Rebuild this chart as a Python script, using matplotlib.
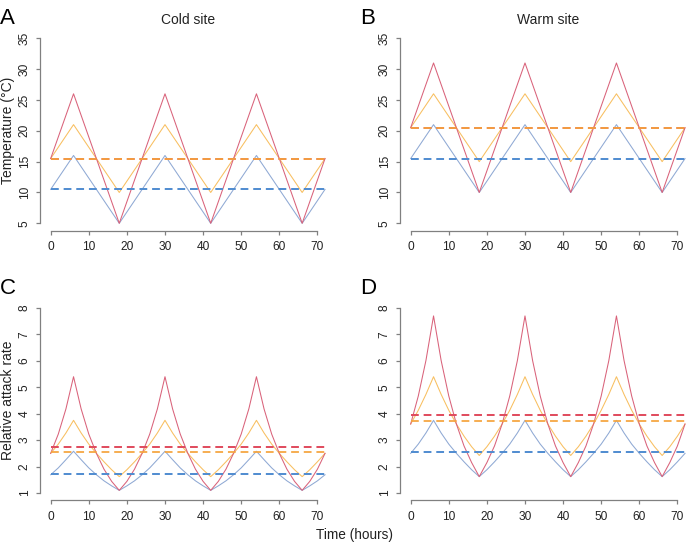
import numpy as np
from matplotlib import pyplot as plt

# begin DATA
hours_vertex = [0, 6, 18, 30, 42, 54, 66, 72]
hours = list(range(0, 73, 2))

# temperature (deg C), triangle vertices
temp_cold_blue = [10.5, 16, 5, 16, 5, 16, 5, 10.5]
temp_cold_orange = [15.5, 21, 10, 21, 10, 21, 10, 15.5]
temp_cold_red = [15.5, 26, 5, 26, 5, 26, 5, 15.5]
temp_warm_blue = [15.5, 21, 10, 21, 10, 21, 10, 15.5]
temp_warm_orange = [20.5, 26, 15, 26, 15, 26, 15, 20.5]
temp_warm_red = [20.5, 31, 10, 31, 10, 31, 10, 20.5]
temp_mean_cold = [10.5, 15.5, 15.5]
temp_mean_warm = [15.5, 20.5, 20.5]

# relative attack rate, every 2 hours
rate_cold_blue = [1.69, 1.95, 2.26, 2.58, 2.26, 1.95, 1.69, 1.46, 1.27, 1.10, 1.27, 1.46,
                  1.69, 1.95, 2.26, 2.58, 2.26, 1.95, 1.69, 1.46, 1.27, 1.10, 1.27, 1.46,
                  1.69, 1.95, 2.26, 2.58, 2.26, 1.95, 1.69, 1.46, 1.27, 1.10, 1.27, 1.46,
                  1.69]
rate_cold_orange = [2.50, 2.85, 3.27, 3.75, 3.27, 2.85, 2.50, 2.18, 1.88, 1.62, 1.88, 2.18,
                    2.50, 2.85, 3.27, 3.75, 3.27, 2.85, 2.50, 2.18, 1.88, 1.62, 1.88, 2.18,
                    2.50, 2.85, 3.27, 3.75, 3.27, 2.85, 2.50, 2.18, 1.88, 1.62, 1.88, 2.18,
                    2.50]
rate_cold_red = [2.50, 3.23, 4.18, 5.40, 4.18, 3.23, 2.50, 1.90, 1.44, 1.10, 1.44, 1.90,
                 2.50, 3.23, 4.18, 5.40, 4.18, 3.23, 2.50, 1.90, 1.44, 1.10, 1.44, 1.90,
                 2.50, 3.23, 4.18, 5.40, 4.18, 3.23, 2.50, 1.90, 1.44, 1.10, 1.44, 1.90,
                 2.50]
rate_warm_blue = [2.50, 2.85, 3.27, 3.75, 3.27, 2.85, 2.50, 2.18, 1.88, 1.62, 1.88, 2.18,
                  2.50, 2.85, 3.27, 3.75, 3.27, 2.85, 2.50, 2.18, 1.88, 1.62, 1.88, 2.18,
                  2.50, 2.85, 3.27, 3.75, 3.27, 2.85, 2.50, 2.18, 1.88, 1.62, 1.88, 2.18,
                  2.50]
rate_warm_orange = [3.61, 4.13, 4.73, 5.40, 4.73, 4.13, 3.61, 3.15, 2.75, 2.42, 2.75, 3.15,
                    3.61, 4.13, 4.73, 5.40, 4.73, 4.13, 3.61, 3.15, 2.75, 2.42, 2.75, 3.15,
                    3.61, 4.13, 4.73, 5.40, 4.73, 4.13, 3.61, 3.15, 2.75, 2.42, 2.75, 3.15,
                    3.61]
rate_warm_red = [3.61, 4.67, 6.01, 7.70, 6.01, 4.67, 3.61, 2.78, 2.15, 1.62, 2.15, 2.78,
                 3.61, 4.67, 6.01, 7.70, 6.01, 4.67, 3.61, 2.78, 2.15, 1.62, 2.15, 2.78,
                 3.61, 4.67, 6.01, 7.70, 6.01, 4.67, 3.61, 2.78, 2.15, 1.62, 2.15, 2.78,
                 3.61]
rate_mean_cold = [1.73, 2.57, 2.73]
rate_mean_warm = [2.55, 3.73, 3.97]
# end DATA

solid_cols = ['#8fa9d4', '#f8bf60', '#d9627a']
dash_cols = ['#4f8bd0', '#f5a53e', '#e04a5c']
axis_col = '#808080'
text_col = '#222222'

plt.rcParams['font.family'] = ['Liberation Sans', 'DejaVu Sans']

fig = plt.figure(figsize=(6.9, 5.48), dpi=100)
W, H = 690.0, 548.0


def make_ax(left_px, top_px, w_px, h_px):
    return fig.add_axes([left_px / W, 1 - (top_px + h_px) / H, w_px / W, h_px / H])


def style(ax, yticks, ylim):
    ax.set_xlim(-2.88, 74.88)
    ax.set_ylim(*ylim)
    for s in ['top', 'right']:
        ax.spines[s].set_visible(False)
    for s in ['left', 'bottom']:
        ax.spines[s].set_color(axis_col)
        ax.spines[s].set_linewidth(0.9)
    ax.spines['left'].set_bounds(yticks[0], yticks[-1])
    ax.spines['bottom'].set_bounds(0, 70)
    ax.set_xticks(range(0, 71, 10))
    ax.set_yticks(yticks)
    ax.set_yticklabels([str(v) for v in yticks], rotation=90, va='center')
    ax.tick_params(colors=axis_col, labelcolor=text_col, labelsize=8.6,
                   length=3, width=0.9)
    ax.tick_params(axis='x', pad=4.5)
    ax.tick_params(axis='y', pad=3.5)


def draw(ax, x, series, means):
    for s, c in zip(series, solid_cols):
        ax.plot(x, s, color=c, lw=0.75)
    for i, (m, c) in enumerate(zip(means, dash_cols)):
        # orange drawn last so overlapping means look orange-red like the original
        z = 3 if i == 1 else 2
        ax.plot([0, 72], [m, m], color=c, lw=1.4, dashes=(4, 2.5), zorder=z,
                alpha=0.9 if i == 1 else 1)


panels = [
    ('A', 'Cold site', 39.7, 30.9, hours_vertex,
     [temp_cold_blue, temp_cold_orange, temp_cold_red], temp_mean_cold,
     [5, 10, 15, 20, 25, 30, 35], (3.8, 36.2)),
    ('B', 'Warm site', 399.7, 30.9, hours_vertex,
     [temp_warm_blue, temp_warm_orange, temp_warm_red], temp_mean_warm,
     [5, 10, 15, 20, 25, 30, 35], (3.8, 36.2)),
    ('C', None, 39.7, 300.6, hours,
     [rate_cold_blue, rate_cold_orange, rate_cold_red], rate_mean_cold,
     [1, 2, 3, 4, 5, 6, 7, 8], (0.72, 8.28)),
    ('D', None, 399.7, 300.6, hours,
     [rate_warm_blue, rate_warm_orange, rate_warm_red], rate_mean_warm,
     [1, 2, 3, 4, 5, 6, 7, 8], (0.72, 8.28)),
]

for letter, title, lx, ty, x, series, means, yticks, ylim in panels:
    ax = make_ax(lx, ty, 296.3, 199.8)
    draw(ax, x, series, means)
    style(ax, yticks, ylim)
    if title:
        ax.set_title(title, fontsize=10, color=text_col, pad=5)
    fig.text((lx - 39.7) / W, 1 - (ty - 12) / H, letter,
             fontsize=16, color='black', ha='left', va='center')

fig.text(8 / W, 1 - 130 / H, 'Temperature (\u00b0C)', rotation=90,
         ha='center', va='center', fontsize=10, color=text_col)
fig.text(8 / W, 1 - 400 / H, 'Relative attack rate', rotation=90,
         ha='center', va='center', fontsize=10, color=text_col)
fig.text(355 / W, 1 - 535 / H, 'Time (hours)', ha='center', va='center',
         fontsize=9.8, color=text_col)

fig.savefig('out.png', dpi=100)
